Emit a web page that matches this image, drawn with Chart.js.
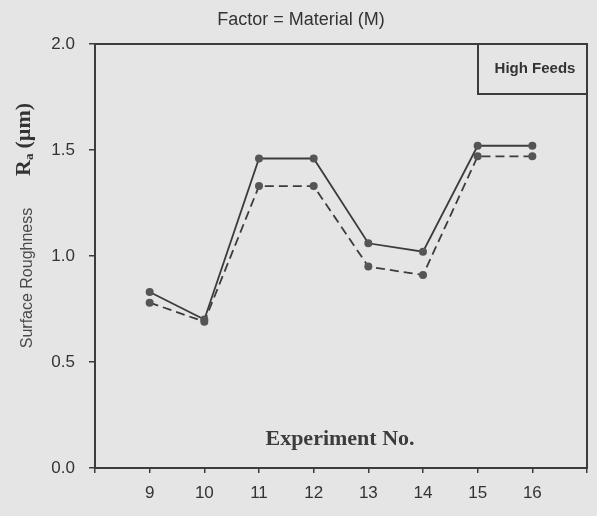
<!DOCTYPE html>
<html>
<head>
<meta charset="utf-8">
<script src="https://cdn.jsdelivr.net/npm/chart.js@4/dist/chart.umd.min.js"></script>
<style>
  html, body { margin: 0; padding: 0; background: #e5e5e5; }
  #wrap { width: 597px; height: 516px; }
</style>
</head>
<body>
<div id="wrap"><canvas id="chart" width="597" height="516"></canvas></div>
<script>
// experiment numbers (x) and roughness readings
const experiments = [9, 10, 11, 12, 13, 14, 15, 16];
const roughSolid = [0.83, 0.70, 1.46, 1.46, 1.06, 1.02, 1.52, 1.52];
const roughDashed = [0.78, 0.69, 1.33, 1.33, 0.95, 0.91, 1.47, 1.47];
const yTicks = [0.0, 0.5, 1.0, 1.5, 2.0];

const ink = '#3c3c3c';
const sans = '"Liberation Sans", Arial, sans-serif';
const serif = '"Liberation Serif", "DejaVu Serif", serif';

function toPoints(vals) {
    return experiments.map((x, i) => ({ x: x, y: vals[i] }));
}

// page background, frame, legend box and free-standing labels
const decor = {
    id: 'decor',
    beforeDraw(chart) {
        const ctx = chart.ctx;
        ctx.save();
        ctx.fillStyle = '#e5e5e5';
        ctx.fillRect(0, 0, chart.width, chart.height);
        ctx.restore();
    },
    afterDraw(chart) {
        const ctx = chart.ctx;
        const a = chart.chartArea;
        ctx.save();
        ctx.strokeStyle = ink;
        ctx.lineWidth = 2;
        ctx.strokeRect(a.left, a.top, a.right - a.left, a.bottom - a.top);

        // legend box
        ctx.strokeRect(478, a.top, a.right - 478, 50);
        ctx.fillStyle = '#333';
        ctx.font = 'bold 15px ' + sans;
        ctx.textAlign = 'center';
        ctx.textBaseline = 'middle';
        ctx.fillText('High Feeds', 535, 69);

        // title
        ctx.font = '18px ' + sans;
        ctx.fillText('Factor = Material (M)', 301, 20);

        // x title inside plot
        ctx.fillStyle = ink;
        ctx.font = 'bold 22px ' + serif;
        ctx.fillText('Experiment No.', 340, 439);

        // y titles, rotated
        ctx.translate(28, 0);
        ctx.rotate(-Math.PI / 2);
        ctx.font = '16px ' + sans;
        ctx.fillStyle = '#4a4a4a';
        ctx.fillText('Surface Roughness', -278, 0);

        ctx.fillStyle = '#333';
        ctx.textAlign = 'left';
        ctx.translate(0, -4);
        ctx.font = 'bold 22px ' + serif;
        let x = -176;
        ctx.fillText('R', x, 0);
        x += ctx.measureText('R').width;
        ctx.font = 'bold 13px ' + serif;
        ctx.fillText('a', x, 6);
        x += ctx.measureText('a').width + 5;
        ctx.font = 'bold 22px ' + serif;
        ctx.fillText('(\u00b5m)', x, 0);
        ctx.restore();
    }
};

new Chart(document.getElementById('chart'), {
    type: 'line',
    data: {
        datasets: [{
            data: toPoints(roughSolid),
            borderColor: ink,
            borderWidth: 1.8,
            pointRadius: 4,
            pointBackgroundColor: '#555',
            pointBorderWidth: 0,
            tension: 0
        }, {
            data: toPoints(roughDashed),
            borderColor: ink,
            borderWidth: 1.8,
            borderDash: [9, 5],
            pointRadius: 4,
            pointBackgroundColor: '#555',
            pointBorderWidth: 0,
            tension: 0
        }]
    },
    options: {
        responsive: false,
        animation: false,
        layout: { padding: { top: 44, right: 5, left: 0, bottom: 0 } },
        plugins: {
            legend: { display: false },
            title: { display: false },
            tooltip: { enabled: false }
        },
        scales: {
            x: {
                type: 'linear',
                min: 8,
                max: 17,
                afterFit(s) { s.height = 48; },
                afterBuildTicks(s) {
                    s.ticks = [];
                    for (let v = 8; v <= 17; v++) s.ticks.push({ value: v });
                },
                grid: { drawOnChartArea: false, drawTicks: true, tickLength: 5, color: ink, lineWidth: 1.5 },
                border: { display: true, color: ink, width: 2 },
                ticks: {
                    padding: 10,
                    color: '#333',
                    font: { family: sans, size: 17 },
                    callback: v => experiments.includes(v) ? String(v) : ''
                }
            },
            y: {
                min: 0,
                max: 2,
                afterFit(s) { s.width = 95; },
                afterBuildTicks(s) {
                    s.ticks = yTicks.map(v => ({ value: v }));
                },
                grid: { drawOnChartArea: false, drawTicks: true, tickLength: 6, color: ink, lineWidth: 1.5 },
                border: { display: true, color: ink, width: 2 },
                ticks: {
                    padding: 14,
                    color: '#333',
                    font: { family: sans, size: 17 },
                    callback: v => v.toFixed(1)
                }
            }
        }
    },
    plugins: [decor]
});
</script>
</body>
</html>
